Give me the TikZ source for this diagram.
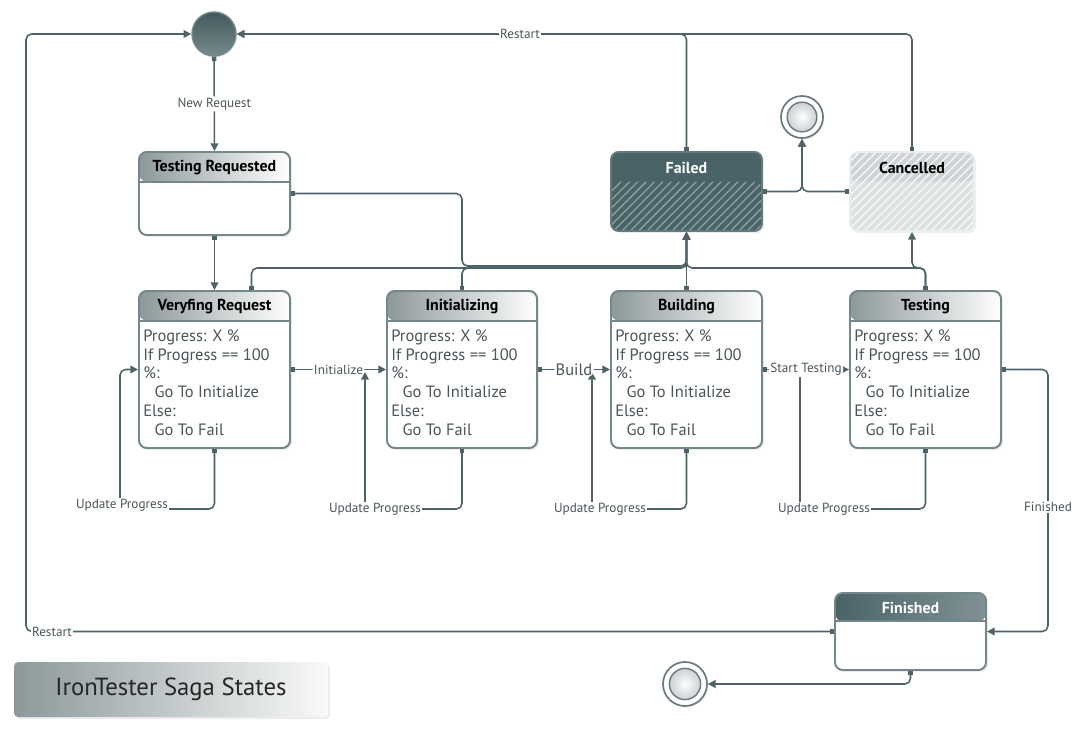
\documentclass[tikz,border=0pt]{standalone}
\usepackage{fontspec}
\setmainfont{PT Sans}
\usetikzlibrary{arrows.meta,calc,fit,shadows,patterns.meta}
\definecolor{linecol}{HTML}{4D6367}
\definecolor{boxline}{HTML}{74888B}
\definecolor{headgrey}{HTML}{8C989A}
\definecolor{darkteal}{HTML}{4A6367}
\definecolor{hatchdark}{HTML}{8FA2A5}
\definecolor{cancelgrey}{HTML}{DDE1E2}
\definecolor{cancelhead}{HTML}{CED4D5}
\definecolor{bodytext}{HTML}{4A5558}
\definecolor{lbltext}{HTML}{4A5558}
\newcommand{\statebodyfont}{\fontsize{11.7}{13.5}\selectfont}
\newcommand{\statetitlefont}{\fontsize{11.3}{12}\selectfont\bfseries}
\begin{document}
\begin{tikzpicture}[x=0.025cm, y=-0.025cm]
    \tikzstyle{state}=[draw=boxline, line width=1.4pt, rounded corners=5.5pt, fill=white, inner sep=0pt,
        drop shadow={opacity=0.15, shadow xshift=1.5pt, shadow yshift=-1.5pt},
        path picture={
            \shade[left color=headgrey, right color=white]
                (path picture bounding box.north west) rectangle ([yshift=-21pt]path picture bounding box.north east);
            \draw[boxline, line width=1.4pt]
                ([yshift=-21pt]path picture bounding box.north west) -- ([yshift=-21pt]path picture bounding box.north east);
        }];
    \tikzstyle{darkstate}=[draw=boxline, line width=1.4pt, rounded corners=5.5pt, fill=white, inner sep=0pt,
        drop shadow={opacity=0.15, shadow xshift=1.5pt, shadow yshift=-1.5pt},
        path picture={
            \shade[left color=darkteal, right color=darkteal!70!white]
                (path picture bounding box.north west) rectangle ([yshift=-20pt]path picture bounding box.north east);
            \draw[boxline, line width=1.4pt]
                ([yshift=-20pt]path picture bounding box.north west) -- ([yshift=-20pt]path picture bounding box.north east);
        }];
    \tikzstyle{failstate}=[draw=darkteal!85!white, line width=1.4pt, rounded corners=5.5pt, fill=darkteal, inner sep=0pt,
        drop shadow={opacity=0.15, shadow xshift=1.5pt, shadow yshift=-1.5pt},
        path picture={
            \fill[pattern={Lines[angle=45, distance=4.2pt, line width=0.9pt]}, pattern color=hatchdark]
                ([yshift=-21pt]path picture bounding box.north west) rectangle (path picture bounding box.south east);
        }];
    \tikzstyle{cancelstate}=[draw=cancelgrey!60!white, line width=1.4pt, rounded corners=5.5pt, fill=cancelgrey, inner sep=0pt,
        drop shadow={opacity=0.12, shadow xshift=1.5pt, shadow yshift=-1.5pt},
        path picture={
            \fill[cancelhead]
                (path picture bounding box.north west) rectangle ([yshift=-21pt]path picture bounding box.north east);
            \fill[pattern={Lines[angle=45, distance=4.2pt, line width=0.9pt]}, pattern color=white!85!cancelgrey]
                (path picture bounding box.north west) rectangle (path picture bounding box.south east);
        }];
    \tikzstyle{statetitle}=[font=\statetitlefont, text=black, inner sep=0pt];
    \tikzstyle{statebody}=[font=\statebodyfont, text=bodytext, align=left, inner sep=0pt, anchor=north west];
    \tikzstyle{startdot}=[circle, minimum size=1.1cm, draw=boxline, line width=1pt, shading angle=45,
        top color=darkteal!90!black, bottom color=darkteal!75!white,
        drop shadow={opacity=0.15, shadow xshift=1pt, shadow yshift=-1pt}];
    \tikzstyle{endring}=[circle, minimum size=1.05cm, draw=linecol!85!white, line width=1.2pt, fill=white,
        drop shadow={opacity=0.15, shadow xshift=1pt, shadow yshift=-1pt}];
    \tikzstyle{endcore}=[circle, minimum size=0.74cm, draw=linecol!85!white, line width=1pt,
        inner color=white, outer color=headgrey!45!white];
    \tikzstyle{flow}=[draw=linecol, line width=1.1pt, rounded corners=4pt,
        arrows={Square[length=3.2pt,width=3.2pt]-Triangle[length=5.5pt,width=5.5pt]}];
    \tikzstyle{lbl}=[fill=white, inner sep=1pt, text=lbltext, font=\fontsize{9.4}{11}\selectfont];

    \useasboundingbox (0,0) rectangle (1080,736);

    % states
    \node[state, fit={(139,152) (290,235)}] (treq) {};
    \node[state, fit={(139,291) (290,448)}] (verify) {};
    \node[state, fit={(387,291) (537,448)}] (init) {};
    \node[state, fit={(611,291) (762,448)}] (build) {};
    \node[state, fit={(850,291) (1001,448)}] (test) {};
    \node[failstate, fit={(611,152) (762,231)}] (failed) {};
    \node[cancelstate, fit={(850,152) (974,231)}] (cancel) {};
    \node[darkstate, fit={(835,593) (986,670)}] (finish) {};

    \node[statetitle] (treqttl) at ($(treq.north)+(0,17)$) {Testing Requested};
    \node[statetitle] (verifyttl) at ($(verify.north)+(0,17)$) {Veryfing Request};
    \node[statetitle] (initttl) at ($(init.north)+(0,17)$) {Initializing};
    \node[statetitle] (buildttl) at ($(build.north)+(0,17)$) {Building};
    \node[statetitle] (testttl) at ($(test.north)+(0,17)$) {Testing};
    \node[statetitle, text=white] (failedttl) at ($(failed.north)+(0,17)$) {Failed};
    \node[statetitle] (cancelttl) at ($(cancel.north)+(0,17)$) {Cancelled};
    \node[statetitle, text=white] (finishttl) at ($(finish.north)+(0,16)$) {Finished};

    \node[statebody] (verifytxt) at ($(verify.north west)+(5,39)$)
        {Progress: X \%\\If Progress == 100\\\%:\\\hspace*{8pt}Go To Initialize\\Else:\\\hspace*{8pt}Go To Fail};
    \node[statebody] (inittxt) at ($(init.north west)+(5,39)$)
        {Progress: X \%\\If Progress == 100\\\%:\\\hspace*{8pt}Go To Initialize\\Else:\\\hspace*{8pt}Go To Fail};
    \node[statebody] (buildtxt) at ($(build.north west)+(5,39)$)
        {Progress: X \%\\If Progress == 100\\\%:\\\hspace*{8pt}Go To Initialize\\Else:\\\hspace*{8pt}Go To Fail};
    \node[statebody] (testtxt) at ($(test.north west)+(5,39)$)
        {Progress: X \%\\If Progress == 100\\\%:\\\hspace*{8pt}Go To Initialize\\Else:\\\hspace*{8pt}Go To Fail};

    % start and end points
    \node[startdot] (start) at (214,34) {};
    \node[endring] (endtop) at (802,117) {};
    \node[endcore] (endtopcore) at (endtop.center) {};
    \node[endring, minimum size=1.1cm] (endbot) at (685,684) {};
    \node[endcore, minimum size=0.78cm] (endbotcore) at (endbot.center) {};

    % legend
    \node[fit={(14,662) (328,717)}, inner sep=0pt, rounded corners=3pt, left color=headgrey, right color=white!95!headgrey,
        drop shadow={opacity=0.15, shadow xshift=1.5pt, shadow yshift=-1.5pt}] (sagabox) {};
    \node[font=\fontsize{17.6}{20}\selectfont, text=black!85] (sagattl) at (sagabox.center) {IronTester Saga States};

    % helper points
    \coordinate (vloop) at (120,509);
    \coordinate (iloop) at (365,509);
    \coordinate (ijoin) at (365,372);
    \coordinate (bloop) at (592,509);
    \coordinate (bjoin) at (592,372);
    \coordinate (tloop) at (800,509);
    \coordinate (tjoin) at (800,366);
    \coordinate (finright) at (1048,507);
    \coordinate (leftrail) at (26,300);

    % transitions
    \draw[flow] (start.south) -- node[lbl] (newreq) {New Request} (treq.north);
    \draw[flow] (treq.south) -- (verify.north);

    \draw[flow] (treq.east) -| ($(init.north)+(0,-24)$) -| (failed.south);
    \draw[flow] ($(verify.north)+(37,0)$) |- ($(failed.south)+(0,36)$) -- (failed.south);
    \draw[flow] (init.north) |- ($(failed.south)+(0,36)$) -- (failed.south);
    \draw[flow] (build.north) -- (failed.south);
    \draw[flow] (test.north) |- ($(failed.south)+(0,36)$) -- (failed.south);
    \draw[flow] (test.north) |- ($(cancel.south)+(0,36)$) -- (cancel.south);

    \draw[flow] (verify.south) |- (vloop) |- (verify.west);
    \draw[flow] (init.south) |- (iloop) -- (ijoin);
    \draw[flow] (build.south) |- (bloop) -- (bjoin);
    \draw[flow] (test.south) |- (tloop) -- (tjoin);
    \node[lbl] (vlooplbl) at (122,505) {Update Progress};
    \node[lbl] (ilooplbl) at (375,509) {Update Progress};
    \node[lbl] (blooplbl) at (600,509) {Update Progress};
    \node[lbl] (tlooplbl) at (824,509) {Update Progress};

    \draw[flow] (verify.east) -- node[lbl] (initlbl) {Initialize} (init.west);
    \draw[flow] (init.east) -- node[lbl, font=\statebodyfont] (buildlbl) {Build} (build.west);
    \draw[flow] (build.east) -- node[lbl] (startlbl) {Start Testing} (test.west);

    \draw[flow] (test.east) -| (finright) |- (finish.east);
    \node[lbl] (finlbl) at (finright) {Finished};

    \draw[flow] (finish.west) -| (leftrail) |- (start.west);
    \node[lbl] (restartl) at (52,632) {Restart};

    \draw[flow] (failed.north) |- (start.east);
    \draw[flow] (cancel.north) |- (start.east);
    \node[lbl] (restartt) at (520,34) {Restart};

    \draw[flow] (failed.east) -| (endtop.south);
    \draw[flow] (cancel.west) -| (endtop.south);
    \draw[flow] (finish.south) |- (endbot.east);
\end{tikzpicture}
\end{document}
